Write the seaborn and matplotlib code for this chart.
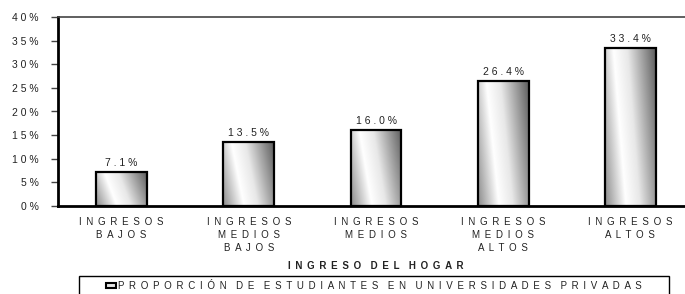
import numpy as np
import pandas as pd
import matplotlib
matplotlib.use('Agg')
import matplotlib.pyplot as plt
import seaborn as sns
from matplotlib.colors import LinearSegmentedColormap
from matplotlib.patches import Patch, Rectangle

# ── Data ───────────────────────────────────────────────────
categories = ['INGRESOS BAJOS', 'INGRESOS MEDIOS BAJOS', 'INGRESOS MEDIOS',
              'INGRESOS MEDIOS ALTOS', 'INGRESOS ALTOS']
values = [7.1, 13.5, 16.0, 26.4, 33.4]
y_ticks = [0, 5, 10, 15, 20, 25, 30, 35, 40]
x_title = 'INGRESO DEL HOGAR'
series_name = 'PROPORCIÓN DE ESTUDIANTES EN UNIVERSIDADES PRIVADAS'

GAP = ' \u2009'          # letter gap (space + thin space)
WORD_GAP = GAP * 2       # wider gap between words


def spaced(s, word_gap=WORD_GAP):
    # letter-spaced text like the original chart
    return word_gap.join(GAP.join(w) for w in s.split(' '))


df = pd.DataFrame({'cat': categories, 'val': values})

sns.set_style('white')
plt.rcParams['font.family'] = ['Liberation Sans', 'DejaVu Sans']
txt_color = '#222222'

fig = plt.figure(figsize=(6.85, 2.94), dpi=100)
ax = fig.add_axes([58 / 685, 1 - 206 / 294, 636 / 685, 189 / 294])

sns.barplot(data=df, x='cat', y='val', ax=ax, width=0.4, facecolor='none',
            edgecolor='black', linewidth=1.6, errorbar=None)

# ── Gradient fill inside bars ──────────────────────────────
cmap = LinearSegmentedColormap.from_list(
    'bar_grad', [(0.0, '#8c8c8c'), (0.33, '#ffffff'), (0.55, '#e8e8e8'), (1.0, '#5e5e5e')])
u, v = np.meshgrid(np.linspace(0, 1, 120), np.linspace(0, 1, 120))
grad = u - 0.25 * v
for bar in ax.patches:
    x0, w, h = bar.get_x(), bar.get_width(), bar.get_height()
    im = ax.imshow(grad, extent=(x0, x0 + w, 0, h), origin='upper', cmap=cmap,
                   vmin=-0.25, vmax=1.0, aspect='auto', zorder=1, interpolation='bilinear')
    im.set_clip_path(bar)
    bar.set_zorder(2)

ax.bar_label(ax.containers[0], labels=[' '.join(f'{v:.1f}%') for v in values],
             padding=3, fontsize=7.5, color=txt_color)

# ── Axes styling ───────────────────────────────────────────
ax.set_xlim(-0.5, len(categories) - 0.5)
ax.set_ylim(0, 40)
ax.set_yticks(y_ticks)
ax.set_yticklabels([' '.join(f'{t}%') for t in y_ticks], fontsize=7.5, color=txt_color)
ax.set_xticks(range(len(categories)))
ax.set_xticklabels([spaced(c, '\n') for c in categories],
                   fontsize=7, color=txt_color, linespacing=1.35)
ax.set_xticks(np.arange(-0.5, len(categories)), minor=True)
ax.tick_params(axis='x', which='major', length=0, pad=8)
ax.tick_params(axis='x', which='minor', length=4, direction='out', color='#444444', width=1)
ax.tick_params(axis='y', length=5, direction='out', color='#444444', width=1, pad=9, left=True)
ax.set_xlabel(spaced(x_title), fontsize=7, fontweight='bold', color=txt_color, labelpad=6)
ax.set_ylabel('')

for side in ['left', 'bottom']:
    ax.spines[side].set_color('black')
    ax.spines[side].set_linewidth(2)
ax.spines['top'].set_color('#444444')
ax.spines['top'].set_linewidth(1.2)
ax.spines['right'].set_color('#444444')

# ── Legend box ─────────────────────────────────────────────
fig.patches.append(Rectangle((79 / 685, -0.05), 590 / 685, 0.05 + 18 / 294,
                             transform=fig.transFigure, facecolor='white',
                             edgecolor='black', linewidth=1))
fig.legend(handles=[Patch(facecolor='#e6e6e6', edgecolor='black', linewidth=1.5)],
           labels=[spaced(series_name)], loc='center', frameon=False,
           bbox_to_anchor=(374 / 685, 1 - 286 / 294), fontsize=7,
           handlelength=1.1, handleheight=0.5, handletextpad=0.2,
           labelcolor=txt_color)

fig.savefig('out.png', dpi=100)
